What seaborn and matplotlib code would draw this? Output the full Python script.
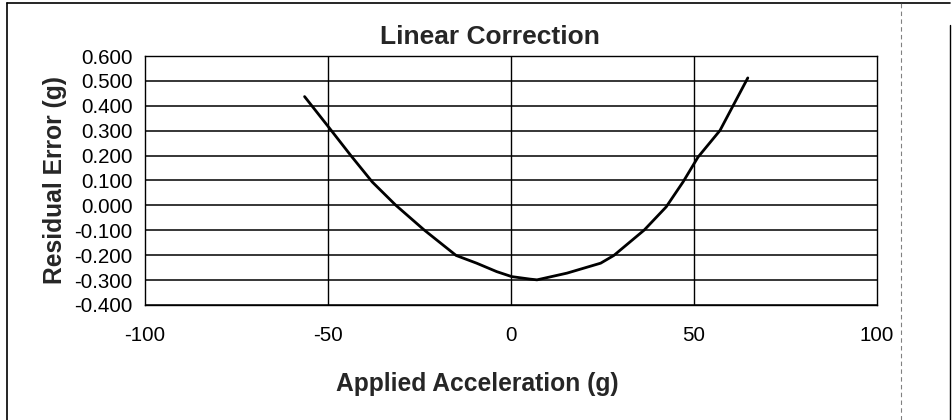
import matplotlib
matplotlib.use("Agg")
import matplotlib.pyplot as plt
from matplotlib.lines import Line2D
import numpy as np
import pandas as pd
import seaborn as sns

# Residual error after linear correction
accel_g = [-56.4, -49.8, -43.8, -37.9, -31.5, -23.7, -15.0, -9.4, -3.9, 0.2, 5.2, 7.1,
           15.3, 24.5, 28.1, 36.4, 42.4, 47.0, 51.1, 57.1, 60.7, 64.7]
residual_g = [0.437, 0.314, 0.201, 0.094, 0.001, -0.099, -0.201, -0.232, -0.266, -0.286,
              -0.296, -0.299, -0.272, -0.232, -0.201, -0.099, -0.006, 0.094, 0.194, 0.301,
              0.401, 0.512]

x_ticks = [-100, -50, 0, 50, 100]
y_ticks = [round(v, 1) for v in np.arange(-0.4, 0.61, 0.1)]

df = pd.DataFrame({"accel": accel_g, "residual": residual_g})

sns.set_style("white")
plt.rcParams["font.family"] = ["Liberation Sans", "DejaVu Sans"]

fig = plt.figure(figsize=(9.52, 4.2), dpi=100)
ax = fig.add_axes([145 / 952, 1 - 305 / 420, (877 - 145) / 952, (305 - 56) / 420])

sns.lineplot(data=df, x="accel", y="residual", sort=False, color="black",
             linewidth=2.0, ax=ax)

ax.set_xlim(-100, 100)
ax.set_ylim(-0.4, 0.6)
ax.set_xticks(x_ticks)
ax.set_xticklabels([str(v) for v in x_ticks])
ax.set_yticks(y_ticks)
ax.set_yticklabels([f"{v:.3f}" if abs(v) > 1e-9 else "0.000" for v in y_ticks])

# Excel-style gridlines
for v in y_ticks:
    ax.axhline(v, color="black", linewidth=1.1, zorder=1)
for v in x_ticks[1:-1]:
    ax.axvline(v, color="black", linewidth=1.0, zorder=1)

for side in ["left", "right", "top", "bottom"]:
    ax.spines[side].set_color("black")
    ax.spines[side].set_linewidth(1.0)

ax.tick_params(axis="both", direction="out", length=5, width=1.0, color="black",
               labelsize=14.8, labelcolor="black", pad=4)
ax.tick_params(axis="x", pad=10)

# Excel centres the titles on the chart area, a bit left of the plot centre
ax.set_title("Linear Correction", fontsize=19, fontweight="bold", pad=9, x=0.471)
ax.set_xlabel("Applied Acceleration (g)", fontsize=17.7, fontweight="bold")
ax.xaxis.set_label_coords(0.454, -0.268)
ax.set_ylabel("Residual Error (g)", fontsize=17.7, fontweight="bold", labelpad=5)

# chart-area border of the scanned page
fig.add_artist(Line2D([7 / 952, 7 / 952], [0, 1 - 3 / 420], color="black", lw=1.2))
fig.add_artist(Line2D([7 / 952, 950 / 952], [1 - 3 / 420, 1 - 3 / 420], color="black", lw=1.2))
fig.add_artist(Line2D([950 / 952, 950 / 952], [0, 1 - 25 / 420], color="black", lw=1.0))
fig.add_artist(Line2D([901 / 952, 901 / 952], [0, 1], color="gray", lw=0.8, ls=(0, (4, 3))))

fig.savefig("out.png", dpi=100)
